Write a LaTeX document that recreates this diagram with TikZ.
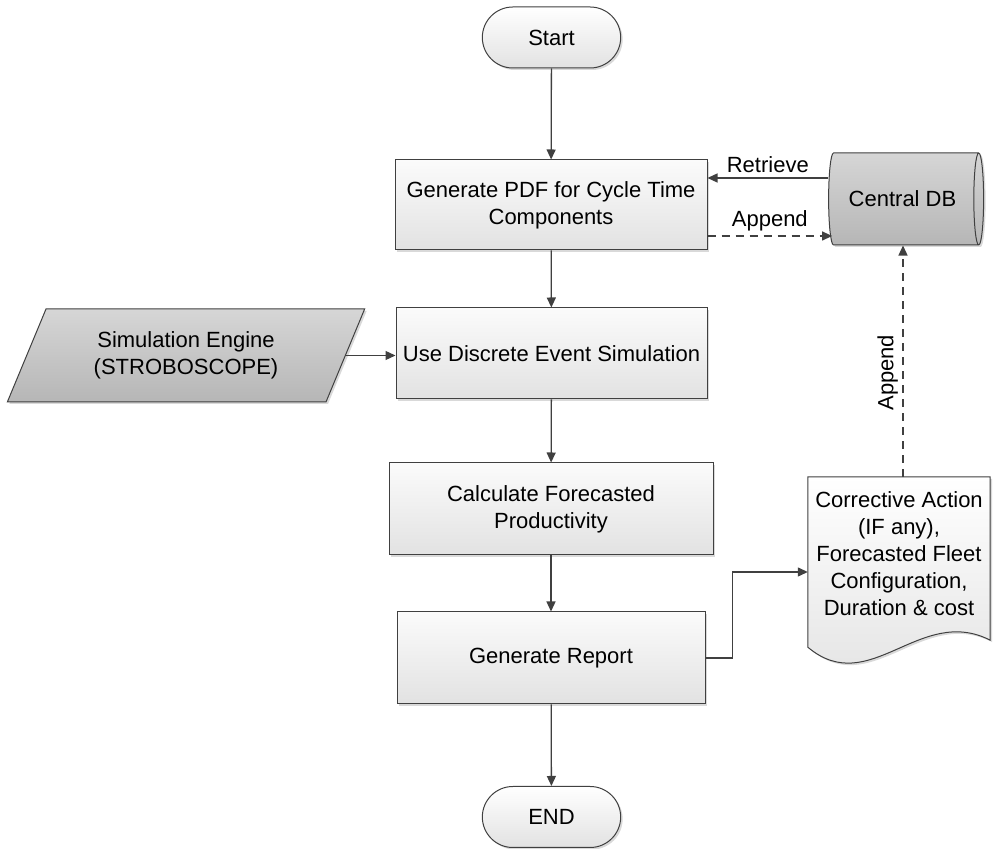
\documentclass[tikz,border=0pt]{standalone}
\usepackage{fontspec}
\setmainfont{Liberation Sans}
\usetikzlibrary{shapes.geometric,shapes.misc,shadows,arrows.meta,calc,backgrounds}

\definecolor{linegray}{HTML}{404040}
\definecolor{boxtop}{HTML}{FBFBFB}
\definecolor{boxbot}{HTML}{E2E2E2}
\definecolor{iotop}{HTML}{D6D6D6}
\definecolor{iobot}{HTML}{B6B6B6}

\tikzset{
  base/.style={draw=linegray, line width=1pt, align=center,
    font=\fontsize{22}{27}\selectfont,
    drop shadow={shadow xshift=2pt, shadow yshift=-2pt, opacity=0.3}},
  procbox/.style={base, rectangle, top color=boxtop, bottom color=boxbot},
  termbox/.style={base, rounded rectangle, minimum width=145pt,
    minimum height=61pt, top color=white, bottom color=boxbot},
  iobox/.style={base, trapezium, trapezium left angle=64,
    trapezium right angle=116, trapezium stretches=true,
    top color=iotop, bottom color=iobot},
  dbbox/.style={base, cylinder, aspect=0.43, top color=iotop, bottom color=iobot},
  flow/.style={draw=linegray, line width=1.3pt, -{Triangle[length=10pt,width=9pt]}},
  dashflow/.style={flow, dash pattern=on 8pt off 6pt},
  lbl/.style={font=\fontsize{22}{27}\selectfont, text=black}
}

\begin{document}
\begin{tikzpicture}[x=1pt,y=1pt]
    \useasboundingbox (0,0) rectangle (994,849);

    % Main flow
    \node[termbox] (start) at (551.5,811.5) {Start};
    \node[procbox, minimum width=312pt, minimum height=90pt] (genpdf) at (551,644)
        {Generate PDF for Cycle Time\\Components};
    \node[procbox, minimum width=311pt, minimum height=91pt] (des) at (551.5,495.5)
        {Use Discrete Event Simulation};
    \node[procbox, minimum width=324pt, minimum height=92pt] (calc) at (551,340)
        {Calculate Forecasted\\Productivity};
    \node[procbox, minimum width=308pt, minimum height=92pt] (report) at (551,191)
        {Generate Report};
    \node[termbox] (end) at (551.5,32) {END};

    % Inputs and storage
    \node[iobox, minimum width=358pt, minimum height=93pt] (simeng) at (186,493.5)
        {Simulation Engine\\(STROBOSCOPE)};
    \node[dbbox, minimum width=92pt, minimum height=155pt] (db) at (902.5,650)
        {Central DB};

    % Output document
    \node[lbl, align=center, minimum width=182pt, minimum height=154pt] (doc) at (899,295)
        {Corrective Action\\(IF any),\\Forecasted Fleet\\Configuration,\\Duration \& cost};
    \begin{scope}[on background layer]
    \path[draw=linegray, line width=1pt, top color=white, bottom color=boxbot,
        drop shadow={shadow xshift=2pt, shadow yshift=-2pt, opacity=0.3}]
        (doc.north west) -- (doc.north east) -- ($(doc.south east)+(0,-9)$)
        .. controls ($(doc.south west)+(112,27)$) and ($(doc.south west)+(62,-68)$)
        .. ($(doc.south west)+(0,-16)$) -- cycle;
    \end{scope}

    % Connectors
    \draw[flow] (start) -- (genpdf);
    \draw[flow] (genpdf) -- (des);
    \draw[flow] (des) -- (calc);
    \draw[flow] (calc) -- (report);
    \draw[flow] (report) -- (end);
    \draw[flow] (simeng.east) -- (simeng.east -| des.west);
    \draw[flow] ([yshift=21pt]db.west) -- ([yshift=21pt]db.west -| genpdf.east)
        node[lbl, midway, above=1pt] {Retrieve};
    \draw[dashflow] ([yshift=-31pt]genpdf.east) -- ([yshift=-31pt,xshift=4pt]genpdf.east -| db.west)
        node[lbl, midway, above=1pt] {Append};
    \draw[flow] (report.east) -- ++(27,0) |- ([yshift=-18pt]doc.west);
    \draw[dashflow] ([xshift=4pt]doc.north) -- ([xshift=4pt]doc.north |- db.south)
        node[lbl, pos=0.45, sloped, above=1pt] {Append};
\end{tikzpicture}
\end{document}
